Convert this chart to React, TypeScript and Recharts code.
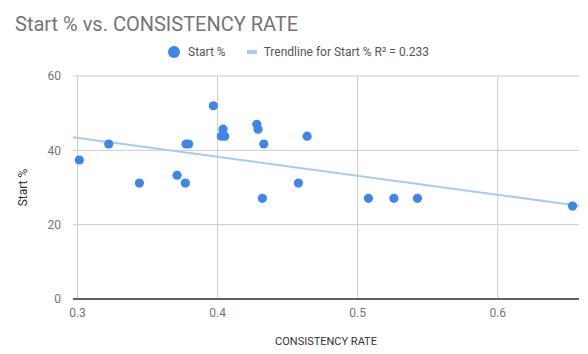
import { CartesianGrid, Scatter, ScatterChart, XAxis, YAxis } from 'recharts';

const consistency = [
  0.3013, 0.3223, 0.3442, 0.3711, 0.377, 0.3775, 0.3794, 0.397, 0.4039, 0.4027, 0.4051,
  0.428, 0.4289, 0.433, 0.432, 0.4577, 0.4639, 0.5077, 0.5259, 0.5427, 0.6534,
];
const startPct = [
  37.4, 41.7, 31.2, 33.3, 31.2, 41.7, 41.7, 52.0, 45.7, 43.8, 43.8,
  47.0, 45.7, 41.7, 27.1, 31.2, 43.8, 27.1, 27.1, 27.1, 25.0,
];
// trendline ends (R² = 0.233)
const trendX = [0.2968, 0.658];
const trendY = [43.5, 25.1];

const xTicks = [0.3, 0.4, 0.5, 0.6];
const yTicks = [0, 20, 40, 60];

const points = consistency.map((x, i) => ({ x, y: startPct[i] }));
const trend = trendX.map((x, i) => ({ x, y: trendY[i] }));

const FONT = 'Roboto, Arial, sans-serif';
const DOT = '#3d87e8';
const TREND = '#a9c9f6';

const Dot = (props: any) => <circle cx={props.cx} cy={props.cy} r={4.6} fill={DOT} />;
const NoDot = () => <g />;

export default function App() {
  return (
    <div style={{ position: 'absolute', left: 0, top: 0, width: 588, height: 354, background: '#fff', fontFamily: FONT }}>
      <div style={{ position: 'absolute', left: 15, top: 12, fontSize: 20, color: '#757575' }}>
        Start % vs. CONSISTENCY RATE
      </div>
      <div
        style={{
          position: 'absolute',
          left: 168,
          top: 45,
          display: 'flex',
          alignItems: 'center',
          fontSize: 12,
          color: '#555',
          whiteSpace: 'nowrap',
        }}
      >
        <span style={{ width: 12, height: 12, borderRadius: 6, background: DOT, display: 'inline-block', marginRight: 8 }} />
        <span>Start %</span>
        <span style={{ width: 10, height: 4, background: TREND, display: 'inline-block', margin: '0 7px 0 21px' }} />
        <span>Trendline for Start % R² = 0.233</span>
      </div>
      <ScatterChart width={588} height={354} margin={{ top: 76, right: 9, bottom: 25, left: 33 }}>
        <CartesianGrid stroke="#cccccc" horizontalValues={yTicks} verticalValues={xTicks} />
        <XAxis
          type="number"
          dataKey="x"
          domain={[0.2968, 0.658]}
          ticks={xTicks}
          allowDataOverflow
          height={30}
          tickLine={false}
          axisLine={{ stroke: '#333', strokeWidth: 1.5 }}
          tick={{ fill: '#757575', fontSize: 12, fontFamily: FONT }}
          tickMargin={3}
          label={{ value: 'CONSISTENCY RATE', position: 'insideBottom', offset: -16, fill: '#333', fontSize: 11, fontFamily: FONT }}
        />
        <YAxis
          type="number"
          dataKey="y"
          domain={[0, 60]}
          ticks={yTicks}
          width={40}
          tickLine={false}
          axisLine={false}
          tick={{ fill: '#757575', fontSize: 12, fontFamily: FONT }}
          tickMargin={6}
          label={{ value: 'Start %', angle: -90, position: 'insideLeft', offset: -10, fill: '#333', fontSize: 12, fontFamily: FONT, style: { textAnchor: 'middle' } }}
        />
        <Scatter data={trend} line={{ stroke: TREND, strokeWidth: 2 }} shape={NoDot} isAnimationActive={false} />
        <Scatter data={points} shape={Dot} isAnimationActive={false} />
      </ScatterChart>
    </div>
  );
}
